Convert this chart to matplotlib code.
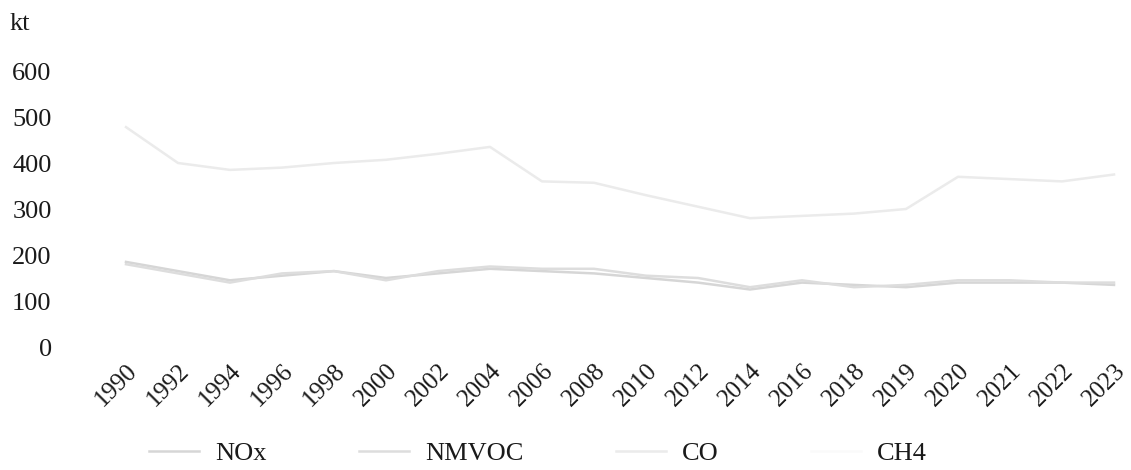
import numpy as np
import matplotlib
matplotlib.use("Agg")
import matplotlib.pyplot as plt

plt.rcParams["font.family"] = ["Liberation Serif", "DejaVu Serif"]

years = ["1990", "1992", "1994", "1996", "1998", "2000", "2002", "2004", "2006", "2008",
         "2010", "2012", "2014", "2016", "2018", "2019", "2020", "2021", "2022", "2023"]
nox = [185, 165, 145, 155, 165, 150, 160, 170, 165, 160,
       150, 140, 125, 140, 135, 130, 140, 140, 140, 135]
nmvoc = [180, 160, 140, 160, 165, 145, 165, 175, 170, 170,
         155, 150, 130, 145, 130, 135, 145, 145, 140, 140]
co = [478, 400, 385, 390, 400, 407, 420, 435, 360, 357,
      330, 305, 280, 285, 290, 300, 370, 365, 360, 375]
ch4 = []  # not visible in the reference
yticks = [0, 100, 200, 300, 400, 500, 600]

W, H = 1131, 470
fig = plt.figure(figsize=(W / 100, H / 100), dpi=100, facecolor="white")
ax_l, ax_r = 60, 1131
ax_b, ax_t = 347, 71
ax = fig.add_axes([ax_l / W, (H - ax_b) / H, (ax_r - ax_l) / W, (ax_b - ax_t) / H])

x = np.arange(len(years))
first, last = 126, 1114
step = (last - first) / 19
ax.set_xlim(-(first - ax_l) / step, 19 + (ax_r - last) / step)
ax.set_ylim(0, 600)

ax.plot(x, nox, color="#d6d6d6", lw=1.8, label="NOx", clip_on=False)
ax.plot(x, nmvoc, color="#dddddd", lw=1.8, label="NMVOC", clip_on=False)
ax.plot(x, co, color="#ebebeb", lw=1.8, label="CO", clip_on=False)
ax.plot(np.arange(len(ch4)), ch4, color="#fafafa", lw=1.8, label="CH4")

for s in ax.spines.values():
    s.set_visible(False)
ax.tick_params(length=0, labelsize=19, colors="#1a1a1a")
ax.set_yticks(yticks)
ax.tick_params(axis="y", pad=6)
ax.set_xticks(x)
ax.set_xticklabels(years, rotation=45, ha="right", rotation_mode="anchor", fontsize=18)
ax.tick_params(axis="x", pad=9)

fig.text(10 / W, 1 - 24 / H, "kt", fontsize=19, color="#1a1a1a", va="center")

fig.legend(loc="center", bbox_to_anchor=(538 / W, 17 / H), ncol=4, frameon=False,
           fontsize=19, handlelength=1.9, handletextpad=0.6, columnspacing=3.5,
           labelcolor="#1a1a1a")

fig.savefig("out.png", dpi=100, facecolor="white")
